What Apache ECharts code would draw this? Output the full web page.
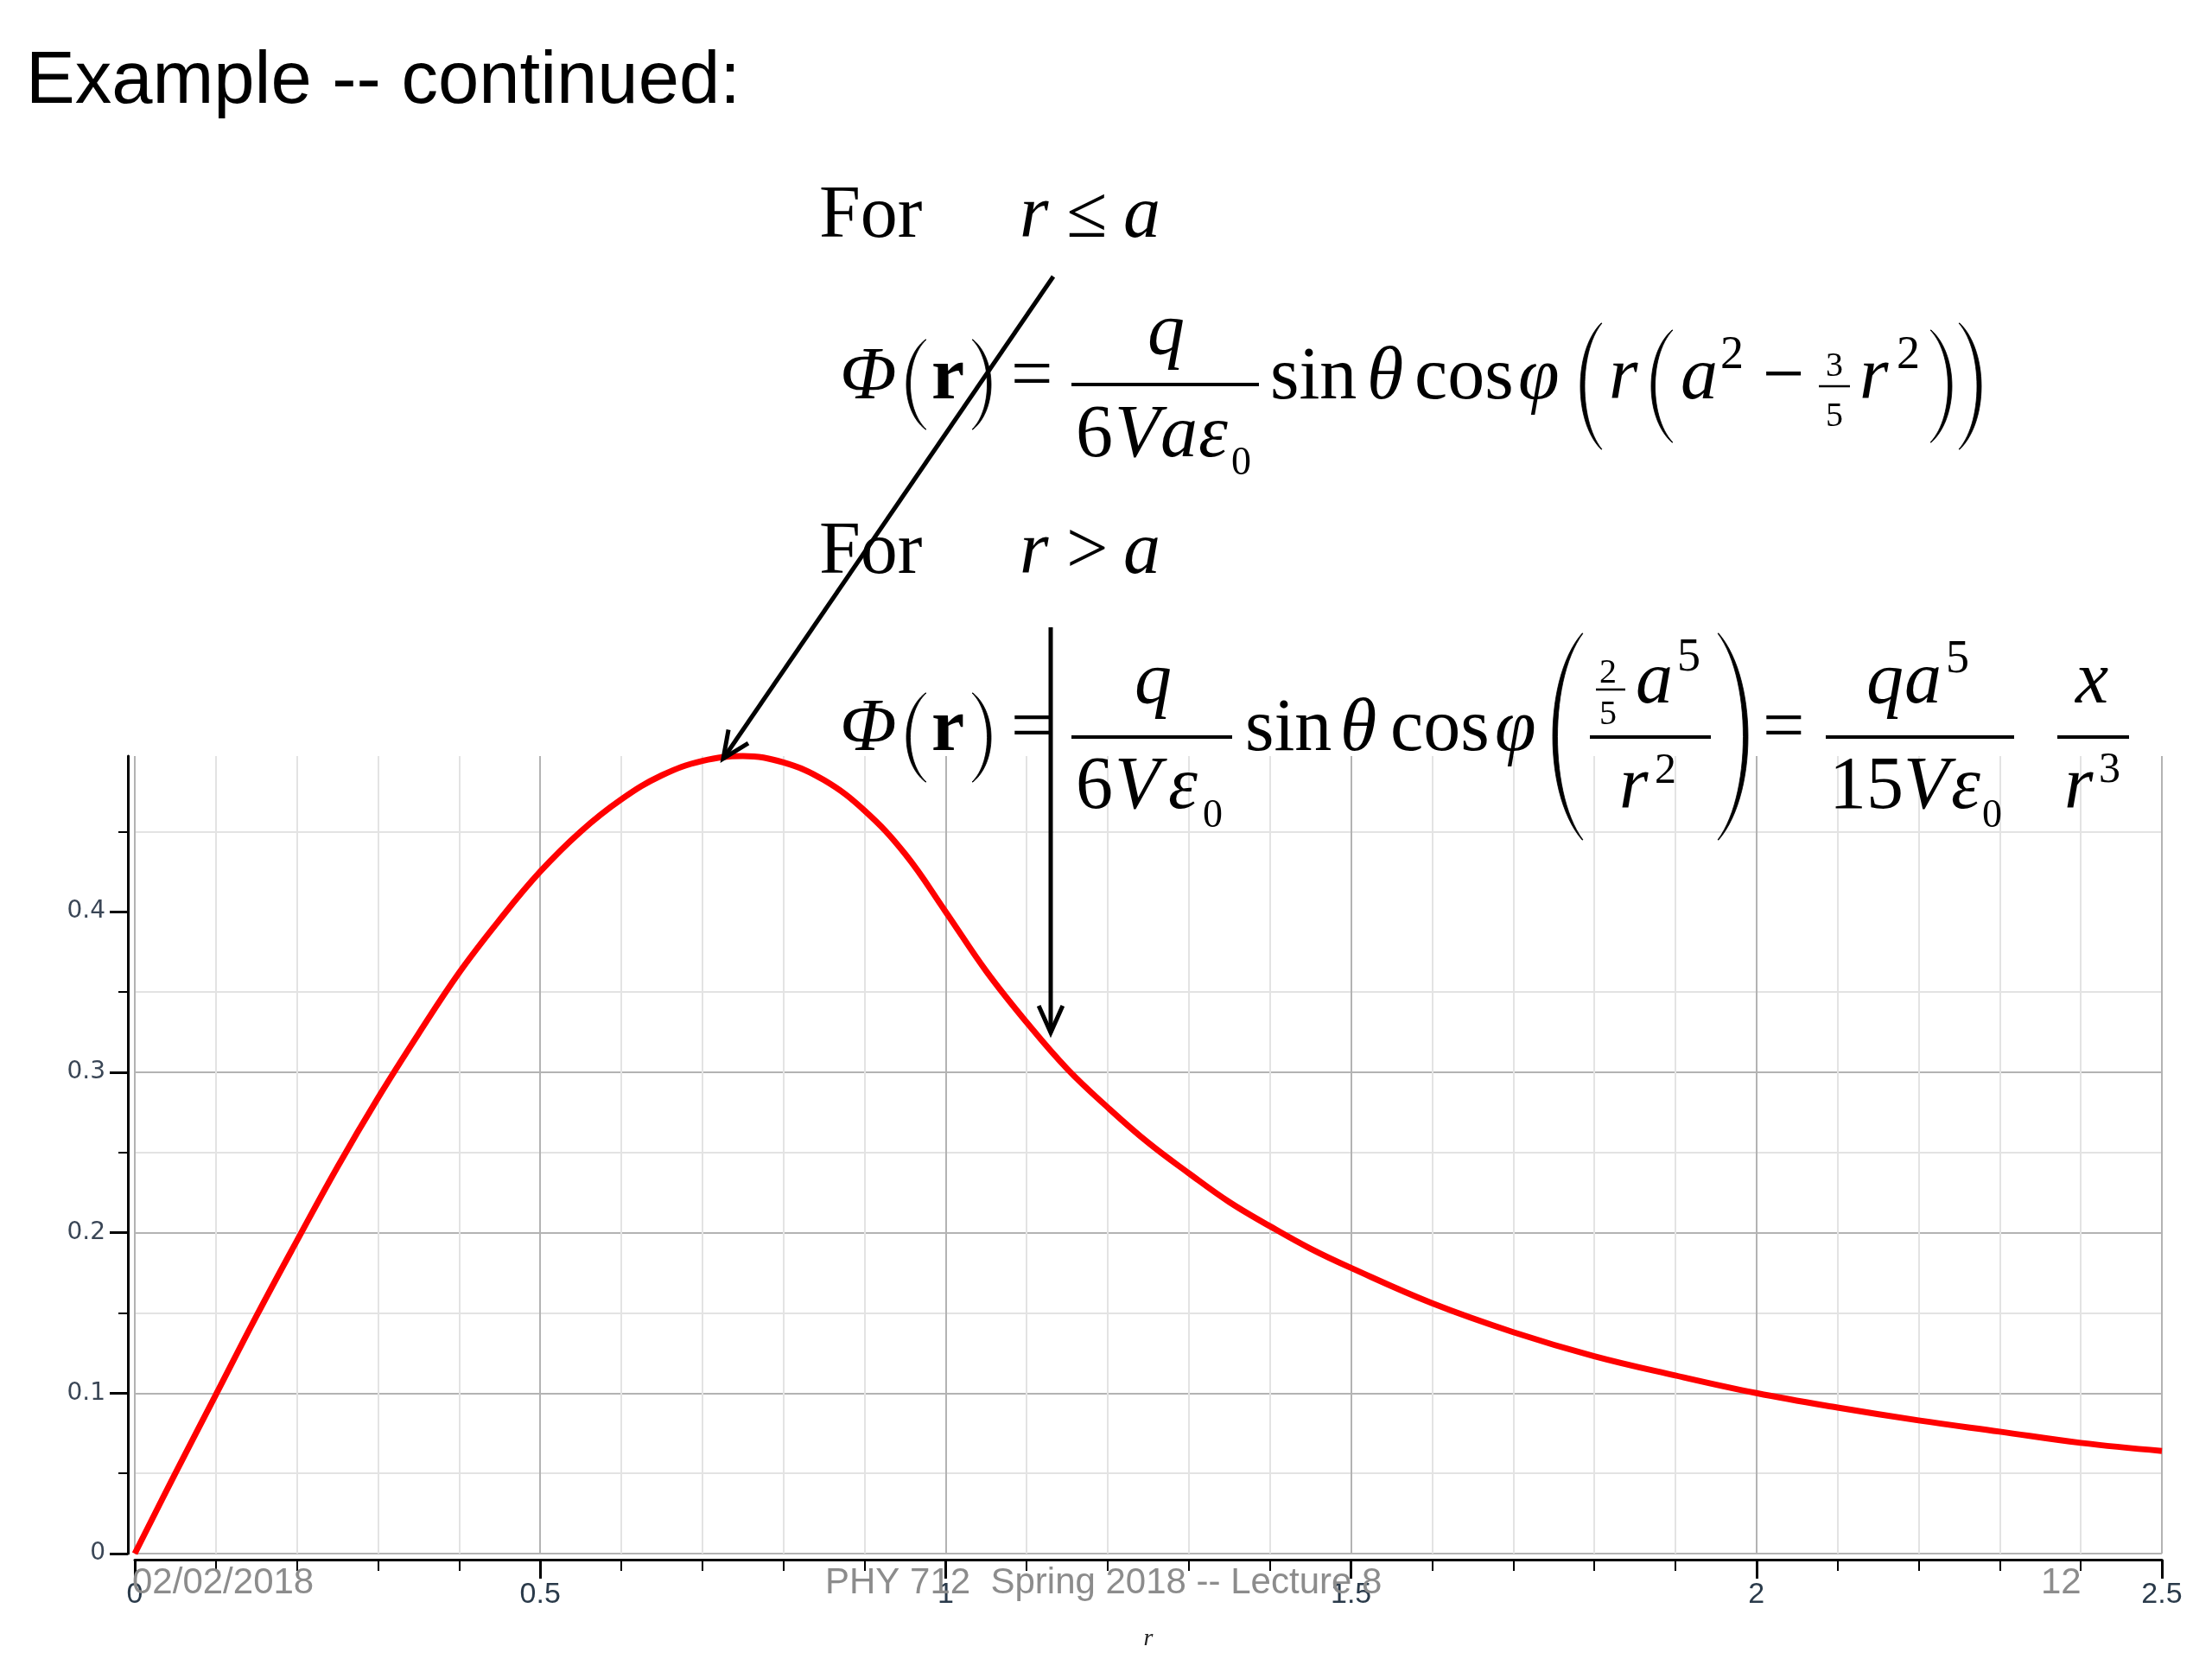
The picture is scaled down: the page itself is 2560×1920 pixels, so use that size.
<!DOCTYPE html>
<html><head><meta charset="utf-8">
<script src="https://cdn.jsdelivr.net/npm/echarts@6/dist/echarts.min.js"></script>
<style>html,body{margin:0;padding:0;background:#fff}#c{width:2560px;height:1920px}</style>
</head><body><div id="c"></div>
<script>
// ---- data ----
const rValues = [0,0.05,0.1,0.15,0.2,0.25,0.3,0.35,0.4,0.45,0.5,0.55,0.6,0.65,0.7,0.75,0.8,0.85,0.9,0.95,1.0,1.05,1.1,1.15,1.2,1.25,1.3,1.35,1.4,1.45,1.5,1.6,1.7,1.8,1.9,2.0,2.1,2.2,2.3,2.4,2.5];
const phiValues = [0,0.050,0.099,0.148,0.195,0.241,0.284,0.324,0.362,0.395,0.425,0.450,0.470,0.485,0.494,0.497,0.493,0.482,0.463,0.436,0.400,0.363,0.331,0.302,0.278,0.256,0.237,0.219,0.204,0.190,0.178,0.156,0.138,0.123,0.111,0.100,0.091,0.083,0.076,0.069,0.064];
const xTicks = [0,0.5,1,1.5,2,2.5];
const yTicks = [0,0.1,0.2,0.3,0.4];
const xName = 'r';
const titleText = 'Example -- continued:';
const footerDate = '02/02/2018';
const footerCourse = 'PHY 712  Spring 2018 -- Lecture 8';
const footerPage = '12';

const chart = echarts.init(document.getElementById('c'), null, {renderer:'canvas'});

const F = 86;
const I = {s:'italic'}, R = {}, B = {w:'bold'};
function T(text, x, base, size, st) {
  st = st || {};
  const fam = st.family || 'Liberation Serif';
  return {
    type:'text', x:x, y: base - 0.34*size, z:100, silent:true,
    style:{text:text, font:(st.s||'normal')+' '+(st.w||'normal')+' '+size+'px "'+fam+'"',
      fill: st.fill||'#000', align:'left', verticalAlign:'middle'}
  };
}
// parenthesis as a filled crescent polygon: xEnd = x of the tips, xMid = x of the bulge
function P(xEnd, xMid, top, bot, t) {
  t = t || 4.5;
  const d = xMid < xEnd ? 1 : -1;
  const k = (bot-top)*0.22;
  const cub = (p0,p1,p2,p3,u) => (1-u)*(1-u)*(1-u)*p0 + 3*(1-u)*(1-u)*u*p1 + 3*(1-u)*u*u*p2 + u*u*u*p3;
  const c1 = (4*xMid - xEnd)/3;
  const e2 = xEnd + d*1;
  const c2 = (4*(xMid + d*t) - e2)/3;
  const pts = [];
  const N = 30;
  for (let i=0;i<=N;i++){ const u=i/N; pts.push([cub(xEnd,c1,c1,xEnd,u), cub(top,top+k,bot-k,bot,u)]); }
  for (let i=N;i>=0;i--){ const u=i/N; pts.push([cub(e2,c2,c2,e2,u), cub(top,top+k,bot-k,bot,u)]); }
  return {type:'polygon', z:100, silent:true, shape:{points:pts}, style:{fill:'#000', stroke:'#000', lineWidth:0.8}};
}
function L(x1,y1,x2,y2,w) {
  return {type:'line', z:100, silent:true, shape:{x1,y1,x2,y2}, style:{stroke:'#000', lineWidth:w||3}};
}
function arrow(x1,y1,x2,y2) {
  const dx=x2-x1, dy=y2-y1, len=Math.hypot(dx,dy), ux=dx/len, uy=dy/len;
  const h=34, a=0.42;
  const c=Math.cos(a), s=Math.sin(a);
  const b1=[x2-h*(ux*c-uy*s), y2-h*(uy*c+ux*s)];
  const b2=[x2-h*(ux*c+uy*s), y2-h*(uy*c-ux*s)];
  return [
    {type:'line', z:101, silent:true, shape:{x1,y1,x2,y2}, style:{stroke:'#000', lineWidth:5}},
    {type:'polyline', z:101, silent:true, shape:{points:[b1,[x2,y2],b2]}, style:{stroke:'#000', lineWidth:5, fill:null}}
  ];
}

const g = [];
// title
g.push(T(titleText, 30, 124, 85, {family:'Liberation Sans'}));
// line 1
g.push(T('For', 948, 281, F, R), T('r', 1180, 281, F, I), T('≤', 1234, 281, F, R), T('a', 1300, 281, F, I));
// eq 1
g.push(T('Φ', 972, 468, F, I), P(1071, 1049, 393, 497), T('r', 1078, 468, F, B), P(1126, 1147, 393, 497), T('=', 1170, 468, F, R));
g.push(L(1240, 445, 1457, 445, 4), T('q', 1328, 416, F, I));
g.push(T('6', 1245, 535, F, R), T('V', 1290, 535, F, I), T('a', 1343, 535, F, I), T('ε', 1387, 535, F, I), T('0', 1425, 553, 46, R));
g.push(T('sin', 1470, 468, F, R), T('θ', 1582, 468, F, I), T('cos', 1637, 468, F, R), T('φ', 1757, 468, F, I));
g.push(P(1853, 1829, 374, 520, 5), T('r', 1862, 468, F, I), P(1935, 1911, 382, 512, 4.5), T('a', 1945, 468, F, I), T('2', 1991, 430, 54, R));
g.push(T('−', 2040, 468, F, R), T('3', 2113, 438, 40, R), L(2105, 447, 2141, 447, 2.5), T('5', 2113, 496, 40, R));
g.push(T('r', 2152, 468, F, I), T('2', 2195, 430, 54, R), P(2235, 2259, 382, 512, 4.5), P(2268, 2293, 374, 520, 5));
// line 3
g.push(T('For', 948, 670, F, R), T('r', 1180, 670, F, I), T('>', 1234, 670, F, R), T('a', 1300, 670, F, I));
// eq 2
g.push(T('Φ', 972, 875, F, I), P(1071, 1049, 802, 905), T('r', 1078, 875, F, B), P(1126, 1147, 802, 905), T('=', 1170, 875, F, R));
g.push(L(1240, 853, 1426, 853, 4), T('q', 1313, 820, F, I));
g.push(T('6', 1245, 942, F, R), T('V', 1290, 942, F, I), T('ε', 1352, 942, F, I), T('0', 1392, 961, 46, R));
g.push(T('sin', 1441, 875, F, R), T('θ', 1551, 875, F, I), T('cos', 1609, 875, F, R), T('φ', 1730, 875, F, I));
g.push(P(1831, 1797, 733, 972, 5.5));
g.push(T('2', 1851, 793, 40, R), L(1847, 798, 1881, 798, 2.5), T('5', 1851, 841, 40, R), T('a', 1893, 820, F, I), T('5', 1941, 780, 54, R));
g.push(L(1840, 853, 1980, 853, 4), T('r', 1874, 942, F, I), T('2', 1915, 910, 50, R));
g.push(P(1989, 2023, 733, 972, 5.5));
g.push(T('=', 2040, 875, F, R));
g.push(L(2113, 853, 2331, 853, 4), T('q', 2160, 820, F, I), T('a', 2204, 820, F, I), T('5', 2252, 782, 54, R));
g.push(T('15', 2117, 942, F, R), T('V', 2203, 942, F, I), T('ε', 2258, 942, F, I), T('0', 2294, 961, 46, R));
g.push(L(2381, 853, 2464, 853, 4), T('x', 2402, 820, F, I), T('r', 2389, 942, F, I), T('3', 2429, 909, 50, R));
// arrows
g.push(...arrow(1219, 320, 837, 878));
g.push(...arrow(1216, 726, 1216, 1195));
// footer
g.push(T(footerDate, 153, 1847, 42, {family:'Liberation Sans', fill:'#8c8c8c'}));
g.push(T(footerCourse, 955, 1847, 42, {family:'Liberation Sans', fill:'#8c8c8c'}));
g.push(T(footerPage, 2362, 1847, 42, {family:'Liberation Sans', fill:'#8c8c8c'}));

const option = {
  animation:false,
  backgroundColor:'#ffffff',
  grid:{left:156, right:58, top:875, bottom:122, containLabel:false},
  xAxis:{
    type:'value', min:xTicks[0], max:xTicks[xTicks.length-1], interval:0.5, offset:7,
    name:xName, nameLocation:'middle', nameGap:78,
    nameTextStyle:{fontFamily:'Liberation Serif', fontStyle:'italic', fontSize:28, color:'#222'},
    axisLine:{show:true, onZero:false, lineStyle:{color:'#000', width:3}},
    axisTick:{show:true, length:22, lineStyle:{color:'#000', width:3}},
    minorTick:{show:true, splitNumber:5, length:13, lineStyle:{color:'#000', width:2}},
    axisLabel:{margin:24, fontFamily:'Liberation Sans', fontSize:34, color:'#2a3a4a'},
    splitLine:{show:true, lineStyle:{color:'#b3b3b3', width:2}},
    minorSplitLine:{show:true, lineStyle:{color:'#e3e3e3', width:2}}
  },
  yAxis:{
    type:'value', min:0, max:0.497, interval:0.1, offset:8,
    axisLine:{show:true, onZero:false, lineStyle:{color:'#000', width:3}},
    axisTick:{show:true, length:21, customValues:yTicks, lineStyle:{color:'#000', width:3}},
    minorTick:{show:true, splitNumber:2, length:11, lineStyle:{color:'#000', width:2}},
    axisLabel:{margin:26, customValues:yTicks, fontFamily:'DejaVu Sans', fontSize:28, color:'#3a4656'},
    splitLine:{show:true, showMaxLine:false, lineStyle:{color:'#b3b3b3', width:2}},
    minorSplitLine:{show:true, lineStyle:{color:'#e3e3e3', width:2}}
  },
  series:[{
    type:'line', data:rValues.map((r,i)=>[r, phiValues[i]]),
    smooth:0.4, showSymbol:false, clip:false,
    lineStyle:{color:'#ff0000', width:7}, z:5
  }],
  graphic:g
};
chart.setOption(option);
</script></body></html>
